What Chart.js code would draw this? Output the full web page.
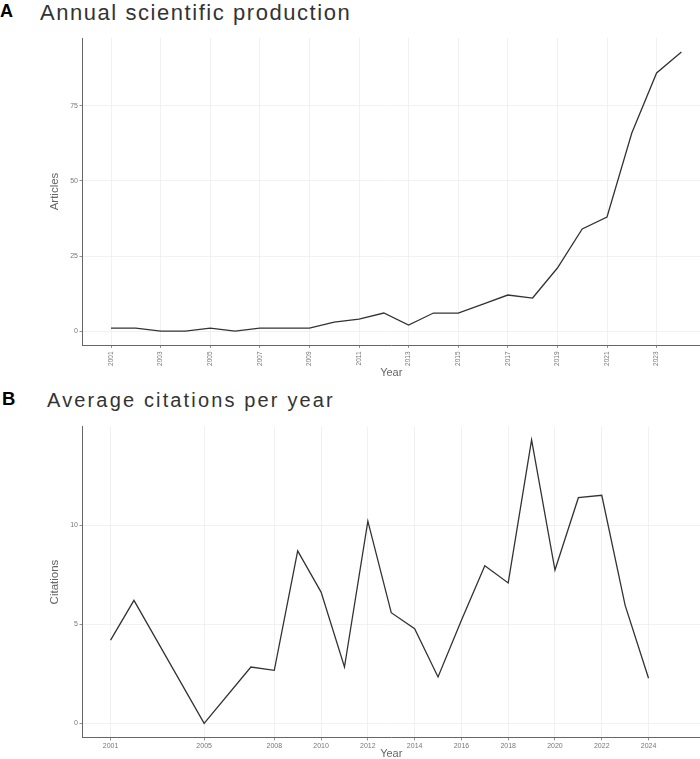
<!DOCTYPE html>
<html>
<head>
<meta charset="utf-8">
<script src="https://cdn.jsdelivr.net/npm/chart.js@4.4.0/dist/chart.umd.min.js"></script>
<style>
  body { margin: 0; background: #fff; width: 700px; height: 759px; overflow: hidden; position: relative; font-family: "Liberation Sans", Arial, sans-serif; }
  .panel { position: absolute; left: 0; width: 700px; }
  .tag { position: absolute; font-weight: bold; color: #000; line-height: 1; }
  .title { position: absolute; color: #333; line-height: 1; white-space: nowrap; }
</style>
</head>
<body>
<div class="tag" style="left:0px; top:2px; font-size:18px;">A</div>
<div class="title" style="left:40px; top:2px; font-size:22px; letter-spacing:1.55px;">Annual scientific production</div>
<div class="panel" style="top:0px; height:380px;"><canvas id="chartA"></canvas></div>

<div class="tag" style="left:2px; top:390px; font-size:18.5px;">B</div>
<div class="title" style="left:47px; top:390px; font-size:20px; letter-spacing:2.15px;">Average citations per year</div>
<div class="panel" style="top:380px; height:381px;"><canvas id="chartB"></canvas></div>

<script>
// Panel A: articles per year
const yearsA = [2001, 2002, 2003, 2004, 2005, 2006, 2007, 2008, 2009, 2010, 2011, 2012,
                2013, 2014, 2015, 2016, 2017, 2018, 2019, 2020, 2021, 2022, 2023, 2024];
const articles = [1, 1, 0, 0, 1, 0, 1, 1, 1, 3, 4, 6, 2, 6, 6, 9, 12, 11, 21, 34, 38, 66, 86, 93];
const tickYearsA = [2001, 2003, 2005, 2007, 2009, 2011, 2013, 2015, 2017, 2019, 2021, 2023];
const articleTicks = [0, 25, 50, 75];

// Panel B: average citations per year
const yearsB = [2001, 2002, 2005, 2007, 2008, 2009, 2010, 2011, 2012, 2013, 2014,
                2015, 2016, 2017, 2018, 2019, 2020, 2021, 2022, 2023, 2024];
const citations = [4.2, 6.2, 0, 2.84, 2.67, 8.7, 6.62, 2.84, 10.2, 5.58, 4.77,
                   2.34, 5.2, 7.95, 7.08, 14.3, 7.73, 11.38, 11.5, 5.95, 2.27];
const tickYearsB = [2001, 2005, 2008, 2010, 2012, 2014, 2016, 2018, 2020, 2022, 2024];
const citationTicks = [0, 5, 10];

const FONT = '"Liberation Sans", Arial, sans-serif';

function buildChart(id, p) {
    const points = p.xs.map((x, i) => ({ x: x, y: p.ys[i] }));
    const ctx = document.getElementById(id).getContext('2d');
    return new Chart(ctx, {
        type: 'line',
        data: {
            datasets: [{
                data: points,
                borderColor: '#333333',
                borderWidth: 1.3,
                pointRadius: 0,
                tension: 0,
                fill: false
            }]
        },
        options: {
            responsive: true,
            maintainAspectRatio: false,
            animation: false,
            layout: { padding: { top: p.top, left: 0, right: 0, bottom: 0 } },
            plugins: { legend: { display: false }, tooltip: { enabled: false } },
            scales: {
                x: {
                    type: 'linear',
                    min: p.xMin,
                    max: p.xMax,
                    afterBuildTicks: (s) => { s.ticks = p.xTicks.map(v => ({ value: v })); },
                    afterFit: (s) => { s.height = p.xHeight; },
                    grid: { color: '#ededed', lineWidth: 0.8, tickColor: '#777', tickLength: 3 },
                    border: { color: '#666', width: 1 },
                    ticks: {
                        autoSkip: false,
                        minRotation: p.rot,
                        maxRotation: p.rot,
                        padding: p.xPad,
                        color: '#777',
                        font: { family: FONT, size: p.tickSize },
                        callback: (v) => String(v)
                    },
                    title: {
                        display: true,
                        text: 'Year',
                        color: '#666',
                        padding: { top: 0, bottom: 0 },
                        font: { family: FONT, size: 11 }
                    }
                },
                y: {
                    min: p.yMin,
                    max: p.yMax,
                    afterBuildTicks: (s) => { s.ticks = p.yTicks.map(v => ({ value: v })); },
                    afterFit: (s) => { s.width = 82.5; },
                    grid: { color: '#ededed', lineWidth: 0.8, tickColor: '#777', tickLength: 3 },
                    border: { color: '#666', width: 1 },
                    ticks: {
                        padding: 1.5,
                        color: '#777',
                        font: { family: FONT, size: 7 },
                        callback: (v) => String(v)
                    },
                    title: {
                        display: true,
                        text: p.yTitle,
                        color: '#666',
                        padding: { top: 48, bottom: 0 },
                        font: { family: FONT, size: 11.5 }
                    }
                }
            }
        }
    });
}

buildChart('chartA', {
    xs: yearsA, ys: articles, xTicks: tickYearsA, yTicks: articleTicks,
    xMin: 1999.85, xMax: 2024.75, yMin: -4.65, yMax: 97.65,
    top: 38, xHeight: 35, rot: 90, xPad: 3.5, tickSize: 6.5, yTitle: 'Articles'
});

buildChart('chartB', {
    xs: yearsB, ys: citations, xTicks: tickYearsB, yTicks: citationTicks,
    xMin: 1999.8, xMax: 2026.2, yMin: -0.71, yMax: 14.96,
    top: 46.7, xHeight: 23.6, rot: 0, xPad: 1, tickSize: 7, yTitle: 'Citations'
});
</script>
</body>
</html>
